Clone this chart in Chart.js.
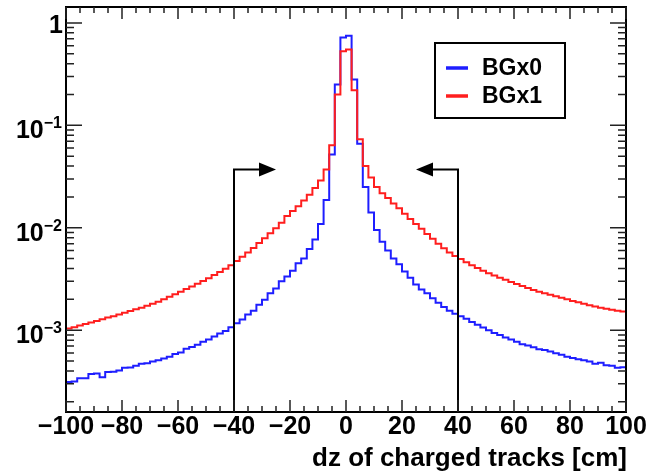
<!DOCTYPE html>
<html>
<head>
<meta charset="utf-8">
<script src="https://cdn.jsdelivr.net/npm/chart.js@4.4.1/dist/chart.umd.min.js"></script>
<style>
  html, body { margin: 0; padding: 0; background: #fff; }
</style>
</head>
<body>
<canvas id="dzChart" width="650" height="472"></canvas>
<script>
// histogram binning (dz in cm)
const xMin = -100, xMax = 100, binWidth = 2;
const xTickValues = [-100, -80, -60, -40, -20, 0, 20, 40, 60, 80, 100];
const xTickLabels = ['\u2212100', '\u221280', '\u221260', '\u221240', '\u221220', '0', '20', '40', '60', '80', '100'];
const yMin = 1.59e-4, yMax = 1.43;
const yMajorTicks = [1e-3, 1e-2, 1e-1, 1];
const yTickBase = ['10', '10', '10', '1'];
const yTickExp = ['\u22123', '\u22122', '\u22121', ''];
const seriesNames = ['BGx0', 'BGx1'];
const seriesColors = ['rgb(30,30,255)', 'rgb(255,30,30)'];
const axisTitle = 'dz of charged tracks [cm]';

// bin contents, from -100 to 100
const bgx0 = [
  3.12e-4, 3.15e-4, 3.4e-4, 3.4e-4, 3.73e-4, 3.78e-4, 3.47e-4, 3.9e-4, 3.92e-4, 4.05e-4,
  4.3e-4, 4.32e-4, 4.5e-4, 4.7e-4, 4.75e-4, 4.95e-4, 5.1e-4, 5.3e-4, 5.5e-4, 5.85e-4,
  6.05e-4, 6.6e-4, 6.85e-4, 7.2e-4, 7.7e-4, 8.1e-4, 8.7e-4, 9.3e-4, 9.8e-4, 1.07e-3,
  1.17e-3, 1.27e-3, 1.42e-3, 1.55e-3, 1.77e-3, 1.98e-3, 2.3e-3, 2.55e-3, 3.0e-3, 3.35e-3,
  3.8e-3, 4.5e-3, 5.0e-3, 6.2e-3, 7.7e-3, 1.09e-2, 1.87e-2, 0.052, 0.25, 0.72,
  0.75, 0.28, 0.066, 0.025, 0.0141, 9.5e-3, 7.3e-3, 6.0e-3, 5.0e-3, 4.4e-3,
  3.75e-3, 3.25e-3, 2.8e-3, 2.5e-3, 2.3e-3, 2.05e-3, 1.85e-3, 1.68e-3, 1.55e-3, 1.45e-3,
  1.37e-3, 1.29e-3, 1.2e-3, 1.13e-3, 1.06e-3, 1.0e-3, 9.4e-4, 9.0e-4, 8.5e-4, 8.1e-4,
  7.7e-4, 7.3e-4, 7.1e-4, 6.8e-4, 6.5e-4, 6.4e-4, 6.2e-4, 5.95e-4, 5.75e-4, 5.5e-4,
  5.35e-4, 5.2e-4, 5.1e-4, 4.95e-4, 4.7e-4, 4.8e-4, 4.55e-4, 4.5e-4, 4.3e-4, 4.35e-4
];
const bgx1 = [
  1.04e-3, 1.07e-3, 1.11e-3, 1.15e-3, 1.19e-3, 1.23e-3, 1.28e-3, 1.33e-3, 1.37e-3, 1.42e-3,
  1.48e-3, 1.54e-3, 1.60e-3, 1.66e-3, 1.73e-3, 1.81e-3, 1.90e-3, 2.00e-3, 2.12e-3, 2.25e-3,
  2.38e-3, 2.52e-3, 2.67e-3, 2.84e-3, 3.02e-3, 3.22e-3, 3.45e-3, 3.70e-3, 3.98e-3, 4.30e-3,
  4.75e-3, 5.2e-3, 5.75e-3, 6.35e-3, 7.1e-3, 7.9e-3, 8.85e-3, 9.9e-3, 1.12e-2, 1.3e-2,
  1.46e-2, 1.62e-2, 1.85e-2, 2.1e-2, 2.45e-2, 2.9e-2, 3.7e-2, 6.4e-2, 0.20, 0.53,
  0.55, 0.22, 0.073, 0.040, 0.031, 0.025, 0.0217, 0.0195, 0.0173, 0.0155,
  0.0137, 0.0122, 0.0109, 9.8e-3, 8.7e-3, 7.8e-3, 7.0e-3, 6.3e-3, 5.75e-3, 5.3e-3,
  4.95e-3, 4.6e-3, 4.3e-3, 4.05e-3, 3.8e-3, 3.6e-3, 3.42e-3, 3.25e-3, 3.1e-3, 2.95e-3,
  2.82e-3, 2.7e-3, 2.58e-3, 2.47e-3, 2.38e-3, 2.3e-3, 2.22e-3, 2.14e-3, 2.07e-3, 2.0e-3,
  1.93e-3, 1.87e-3, 1.81e-3, 1.75e-3, 1.70e-3, 1.66e-3, 1.62e-3, 1.58e-3, 1.55e-3, 1.52e-3
];

// cut arrows
const cutLow = -40, cutHigh = 40, cutLevel = 0.037;
const arrowTipLow = -25, arrowTipHigh = 25;

// step outline: left edge of every bin plus the last right edge
function histPoints(values) {
  const pts = values.map((v, i) => ({ x: xMin + i * binWidth, y: v }));
  pts.push({ x: xMax, y: values[values.length - 1] });
  return pts;
}

const FONT = '"Liberation Sans", Arial, Helvetica, sans-serif';

const rootStyle = {
  id: 'rootStyle',
  afterDatasetsDraw(chart) {
    const ctx = chart.ctx;
    const xs = chart.scales.x, ys = chart.scales.y;
    const { left, right, top, bottom } = chart.chartArea;
    ctx.save();

    // cut lines with arrows
    ctx.strokeStyle = '#000';
    ctx.fillStyle = '#000';
    ctx.lineWidth = 2;
    const yCut = ys.getPixelForValue(cutLevel);
    const headLen = 17, headHalf = 7;
    [[cutLow, arrowTipLow], [cutHigh, arrowTipHigh]].forEach(([cx, tx]) => {
      const px = xs.getPixelForValue(cx);
      const tip = xs.getPixelForValue(tx);
      const dir = tip > px ? 1 : -1;
      ctx.beginPath();
      ctx.moveTo(px, bottom);
      ctx.lineTo(px, yCut);
      ctx.lineTo(tip - dir * headLen, yCut);
      ctx.stroke();
      ctx.beginPath();
      ctx.moveTo(tip, yCut);
      ctx.lineTo(tip - dir * headLen, yCut - headHalf);
      ctx.lineTo(tip - dir * headLen, yCut + headHalf);
      ctx.closePath();
      ctx.fill();
    });

    // frame
    ctx.lineWidth = 2;
    ctx.strokeRect(left, top, right - left, bottom - top);

    // ticks inside the frame
    ctx.lineWidth = 1.5;
    ctx.strokeStyle = '#222';
    ctx.beginPath();
    for (let v = xMin; v <= xMax; v += 5) {
      const px = xs.getPixelForValue(v);
      const len = v % 20 === 0 ? 12 : 6;
      ctx.moveTo(px, bottom); ctx.lineTo(px, bottom - len);
      ctx.moveTo(px, top); ctx.lineTo(px, top + len);
    }
    for (let d = -4; d <= 0; d++) {
      for (let m = 1; m <= 9; m++) {
        const val = m * Math.pow(10, d);
        if (val < yMin || val > yMax) continue;
        const py = ys.getPixelForValue(val);
        const len = m === 1 ? 16 : 8;
        ctx.moveTo(left, py); ctx.lineTo(left + len, py);
        ctx.moveTo(right, py); ctx.lineTo(right - len, py);
      }
    }
    ctx.stroke();

    // y labels with superscripts
    ctx.fillStyle = '#000';
    ctx.textAlign = 'right';
    ctx.textBaseline = 'alphabetic';
    const labRight = 62;
    yMajorTicks.forEach((val, i) => {
      const py = ys.getPixelForValue(val);
      if (yTickExp[i]) {
        ctx.font = 'bold 16px ' + FONT;
        const w = ctx.measureText(yTickExp[i]).width;
        ctx.fillText(yTickExp[i], labRight, py + 3);
        ctx.font = 'bold 25px ' + FONT;
        ctx.fillText(yTickBase[i], labRight - w, py + 13);
      } else {
        ctx.font = 'bold 25px ' + FONT;
        ctx.fillText(yTickBase[i], labRight + 1, py + 10);
      }
    });

    // x axis title
    ctx.font = 'bold 26px ' + FONT;
    ctx.textAlign = 'right';
    ctx.fillText(axisTitle, right + 1, 466);

    // legend box
    const lx = 435, ly = 43, lw = 130, lh = 75;
    ctx.fillStyle = '#fff';
    ctx.fillRect(lx, ly, lw, lh);
    ctx.strokeStyle = '#000';
    ctx.lineWidth = 2;
    ctx.strokeRect(lx, ly, lw, lh);
    ctx.font = 'bold 23px ' + FONT;
    ctx.textAlign = 'left';
    ctx.textBaseline = 'middle';
    seriesNames.forEach((name, i) => {
      const yy = ly + 25 + i * 28;
      ctx.strokeStyle = seriesColors[i];
      ctx.lineWidth = 3.5;
      ctx.beginPath();
      ctx.moveTo(lx + 11, yy); ctx.lineTo(lx + 33, yy);
      ctx.stroke();
      ctx.fillStyle = '#000';
      ctx.fillText(name, lx + 47, yy + 1);
    });
    ctx.restore();
  }
};

const ctx = document.getElementById('dzChart').getContext('2d');
const dzChart = new Chart(ctx, {
  type: 'line',
  data: {
    datasets: [
      {
        label: seriesNames[0],
        data: histPoints(bgx0),
        borderColor: seriesColors[0],
        borderWidth: 2,
        stepped: true,
        pointRadius: 0,
        fill: false,
        order: 1
      },
      {
        label: seriesNames[1],
        data: histPoints(bgx1),
        borderColor: seriesColors[1],
        borderWidth: 2,
        stepped: true,
        pointRadius: 0,
        fill: false,
        order: 0
      }
    ]
  },
  options: {
    responsive: false,
    animation: false,
    events: [],
    layout: { padding: { left: 66, right: 24, top: 7, bottom: 0 } },
    plugins: { legend: { display: false }, tooltip: { enabled: false } },
    scales: {
      x: {
        type: 'linear',
        min: xMin,
        max: xMax,
        afterFit: (axis) => { axis.height = 60; },
        afterBuildTicks: (axis) => { axis.ticks = xTickValues.map(v => ({ value: v })); },
        grid: { display: false },
        border: { display: false },
        ticks: {
          maxRotation: 0,
          autoSkip: false,
          padding: -8,
          color: '#000',
          font: { family: FONT, size: 25, weight: 'bold' },
          callback: (v) => xTickLabels[xTickValues.indexOf(v)]
        }
      },
      y: {
        type: 'logarithmic',
        display: false,
        min: yMin,
        max: yMax
      }
    }
  },
  plugins: [rootStyle]
});
</script>
</body>
</html>
